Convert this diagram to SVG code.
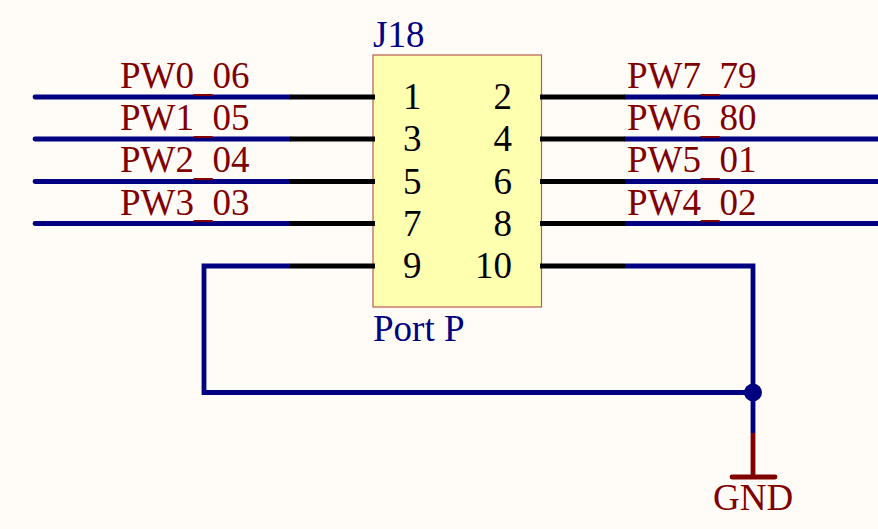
<svg xmlns="http://www.w3.org/2000/svg" width="878" height="529" viewBox="0 0 878 529">
<style>
text{font-family:"Liberation Serif","Times New Roman",serif;font-size:37px}
.net{fill:#800000}
.id{fill:#000080}
.pin{fill:#000}
.end{text-anchor:end}
.w{fill:none;stroke:#000080;stroke-width:4.800;stroke-linecap:round}
.p{fill:none;stroke:#000;stroke-width:4.800;stroke-linecap:round}
.g{fill:none;stroke:#800000;stroke-width:4.800;stroke-linecap:round}
</style>
<rect width="878" height="529" fill="#fffcf8"/>
<g id="connectors">
<path class="w" d="M35 97H290M35 139H290M35 181.500H290M35 223.500H290"/>
<path class="w" d="M625 97H880M625 139H880M625 181.500H880M625 223.500H880"/>
<path class="w" stroke-linejoin="miter" style="stroke-linecap:butt" d="M290 266H204V392.500H753M625 266H753V433"/>
<circle cx="753" cy="392.500" r="9" fill="#000080"/>
</g>
<g id="J18">
<rect x="373" y="55" width="168.500" height="252" fill="#ffffb0" stroke="#b85c50" stroke-width="1.200"/>
<path class="p" style="stroke-linecap:butt" d="M290 97H375M290 139H375M290 181.500H375M290 223.500H375M290 266H375M540 97H625M540 139H625M540 181.500H625M540 223.500H625M540 266H625"/>
<text class="id" x="373" y="46.500">J18</text>
<text class="id" x="373" y="341">Port P</text>
<text class="pin" x="403" y="109">1</text>
<text class="pin" x="403" y="151">3</text>
<text class="pin" x="403" y="194">5</text>
<text class="pin" x="403" y="236">7</text>
<text class="pin" x="403" y="278">9</text>
<text class="pin end" x="512" y="109">2</text>
<text class="pin end" x="512" y="151">4</text>
<text class="pin end" x="512" y="194">6</text>
<text class="pin end" x="512" y="236">8</text>
<text class="pin end" x="512" y="278">10</text>
</g>
<g id="net-labels">
<text class="net" x="120" y="88">PW0<tspan dy="2.500">_</tspan><tspan dy="-2.500">06</tspan></text>
<text class="net" x="120" y="130">PW1<tspan dy="2.500">_</tspan><tspan dy="-2.500">05</tspan></text>
<text class="net" x="120" y="172">PW2<tspan dy="2.500">_</tspan><tspan dy="-2.500">04</tspan></text>
<text class="net" x="120" y="215">PW3<tspan dy="2.000">_</tspan><tspan dy="-2.000">03</tspan></text>
<text class="net" x="627" y="88">PW7<tspan dy="2.500">_</tspan><tspan dy="-2.500">79</tspan></text>
<text class="net" x="627" y="130">PW6<tspan dy="2.500">_</tspan><tspan dy="-2.500">80</tspan></text>
<text class="net" x="627" y="172">PW5<tspan dy="2.500">_</tspan><tspan dy="-2.500">01</tspan></text>
<text class="net" x="627" y="215">PW4<tspan dy="2.000">_</tspan><tspan dy="-2.000">02</tspan></text>
</g>
<g id="GND">
<path class="g" style="stroke-linecap:butt" d="M753 433V477"/>
<path class="g" d="M732 477H775"/>
<text class="net" x="713" y="510">GND</text>
</g>
</svg>
